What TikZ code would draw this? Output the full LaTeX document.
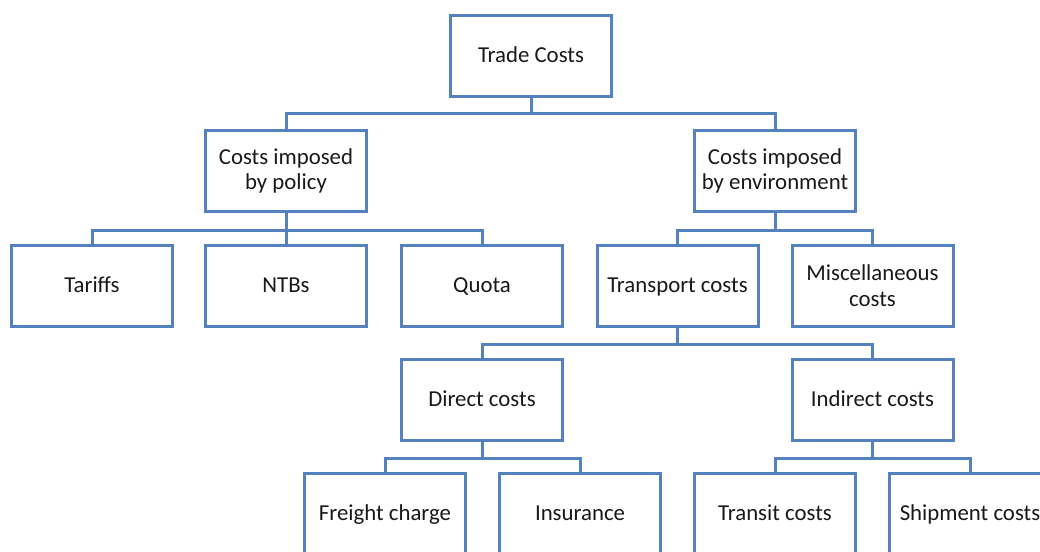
\documentclass[tikz,border=0pt]{standalone}
\usepackage{fontspec}
\setmainfont{Carlito}
\definecolor{boxblue}{RGB}{84,130,190}
\begin{document}
\begin{tikzpicture}[x=0.5pt,y=-0.5pt,
  box/.style={draw=boxblue,line width=1.5pt,fill=white,minimum width=80.5pt,minimum height=40.5pt,
    inner sep=0pt,align=center,font=\fontsize{11.4}{12.8}\selectfont,text=black!90},
  one/.style={text height=1.9ex,text depth=0.45ex},
  conn/.style={draw=boxblue,line width=1.5pt,line cap=rect,line join=miter}]
\useasboundingbox (0,0) rectangle (1040,552);
\clip (0,0) rectangle (1040,552);
% level 0
\node[box,one] (tc) at (531,56) {Trade Costs};
% level 1
\node[box] (pol) at (286,171) {Costs imposed\\by policy};
\node[box] (env) at (775,171) {Costs imposed\\by environment};
% level 2
\node[box,one] (tar) at (92,285.5) {Tariffs};
\node[box,one] (ntb) at (286,285.5) {NTBs};
\node[box,one] (quo) at (482,285.5) {Quota};
\node[box,one] (tra) at (677.5,285.5) {Transport costs};
\node[box] (mis) at (872.5,285.5) {Miscellaneous\\costs};
% level 3
\node[box,one] (dir) at (482,400) {Direct costs};
\node[box,one] (ind) at (872.5,400) {Indirect costs};
% level 4
\node[box,one] (fre) at (385,514) {Freight charge};
\node[box,one] (ins) at (580,514) {Insurance};
\node[box,one] (trn) at (775,514) {Transit costs};
\node[box,one] (shp) at (970,514) {Shipment costs};
% bus coordinates
\coordinate (b1) at (531,113);
\coordinate (b2) at (286,230);
\coordinate (b3) at (775,230);
\coordinate (b4) at (677.5,344);
\coordinate (b5) at (482,458);
\coordinate (b6) at (872.5,458);
% connectors
\draw[conn] (tc.south) -- (b1);
\draw[conn] (pol.north) |- (b1) -| (env.north);
\draw[conn] (pol.south) -- (ntb.north);
\draw[conn] (tar.north) |- (b2) -| (quo.north);
\draw[conn] (env.south) -- (b3);
\draw[conn] (tra.north) |- (b3) -| (mis.north);
\draw[conn] (tra.south) -- (b4);
\draw[conn] (dir.north) |- (b4) -| (ind.north);
\draw[conn] (dir.south) -- (b5);
\draw[conn] (fre.north) |- (b5) -| (ins.north);
\draw[conn] (ind.south) -- (b6);
\draw[conn] (trn.north) |- (b6) -| (shp.north);
\end{tikzpicture}
\end{document}
